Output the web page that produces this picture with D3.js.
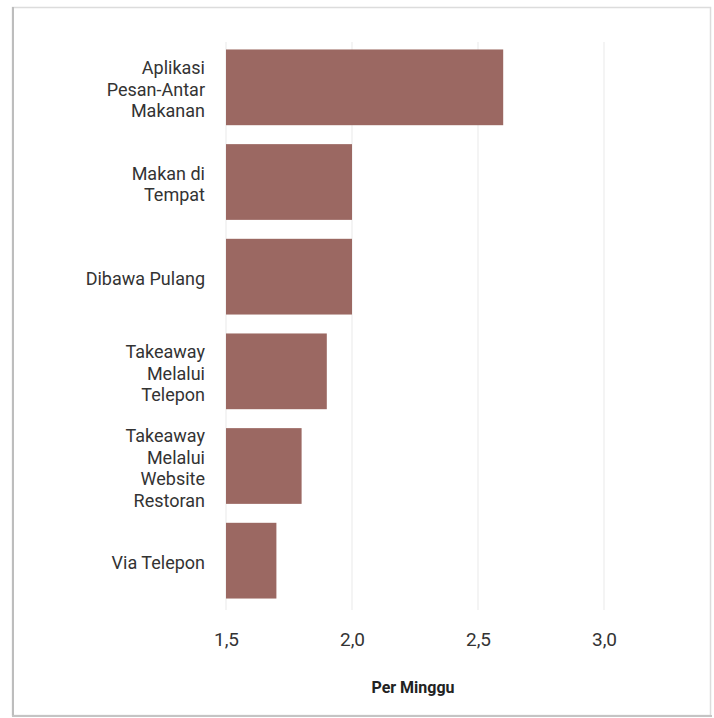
<!DOCTYPE html>
<html><head><meta charset="utf-8">
<script src="https://cdn.jsdelivr.net/npm/d3@7"></script>
<style>body{margin:0;background:#fff;} svg{display:block;}</style>
</head><body>
<script>
const categories = [
  ["Aplikasi","Pesan-Antar","Makanan"],
  ["Makan di","Tempat"],
  ["Dibawa Pulang"],
  ["Takeaway","Melalui","Telepon"],
  ["Takeaway","Melalui","Website","Restoran"],
  ["Via Telepon"]
];
const values = [2.6, 2.0, 2.0, 1.9, 1.8, 1.7];
const tickValues = [1.5, 2.0, 2.5, 3.0];
const tickLabels = ["1,5","2,0","2,5","3,0"];
const axisTitle = "Per Minggu";

const W = 714, H = 718;
const svg = d3.select("body").append("svg").attr("width", W).attr("height", H);
// frame
svg.append("rect").attr("x",12.5).attr("y",7.5).attr("width",698).attr("height",708)
  .attr("fill","#fff").attr("stroke","#dcdcdc").attr("stroke-width",1.5);
svg.append("line").attr("x1",13).attr("x2",13).attr("y1",7).attr("y2",716).attr("stroke","#bdbdbd").attr("stroke-width",2);
svg.append("line").attr("x1",12).attr("x2",712).attr("y1",716).attr("y2",716).attr("stroke","#c4c4c4").attr("stroke-width",2);

const x = d3.scaleLinear().domain([1.5, 3.0]).range([226, 604]);
const ids = categories.map((c,i)=>i);
const y = d3.scaleBand().domain(ids).range([40, 608]).paddingInner(0.2).paddingOuter(0.1);

// gridlines
svg.append("g").selectAll("line").data(tickValues).join("line")
  .attr("x1", d=>x(d)).attr("x2", d=>x(d)).attr("y1", 42).attr("y2", 610)
  .attr("stroke", "#f1f1f1").attr("stroke-width", 1.5);

// bars
svg.append("g").selectAll("rect").data(values).join("rect")
  .attr("x", x(1.5)).attr("y", (d,i)=>y(i))
  .attr("width", d=>x(d)-x(1.5)).attr("height", y.bandwidth())
  .attr("fill", "#9b6862");

// x axis
const xAxis = d3.axisBottom(x).tickValues(tickValues).tickFormat((d,i)=>tickLabels[i]).tickSize(0).tickPadding(0);
const gx = svg.append("g").attr("transform","translate(0,632)").call(xAxis);
gx.select(".domain").remove();
gx.selectAll("text").attr("font-family","Roboto, sans-serif").attr("font-size",19).attr("fill","#333");

// y labels
const lh = 21.5;
const gy = svg.append("g");
categories.forEach((lines,i)=>{
  const cy = y(i) + y.bandwidth()/2 + 2;
  const t = gy.append("text").attr("x", 205).attr("text-anchor","end")
    .attr("font-family","Roboto, sans-serif").attr("font-size",18).attr("fill","#333");
  lines.forEach((ln,j)=>{
    t.append("tspan").attr("x",205).attr("y", cy + (j - (lines.length-1)/2)*lh).attr("dy","0.35em").text(ln);
  });
});

// axis title
svg.append("text").attr("x", x(2.25) - 2).attr("y", 693).attr("text-anchor","middle")
  .attr("font-family","Roboto, sans-serif").attr("font-size",16).attr("font-weight","bold").attr("fill","#222")
  .text(axisTitle);
</script>
</body></html>
